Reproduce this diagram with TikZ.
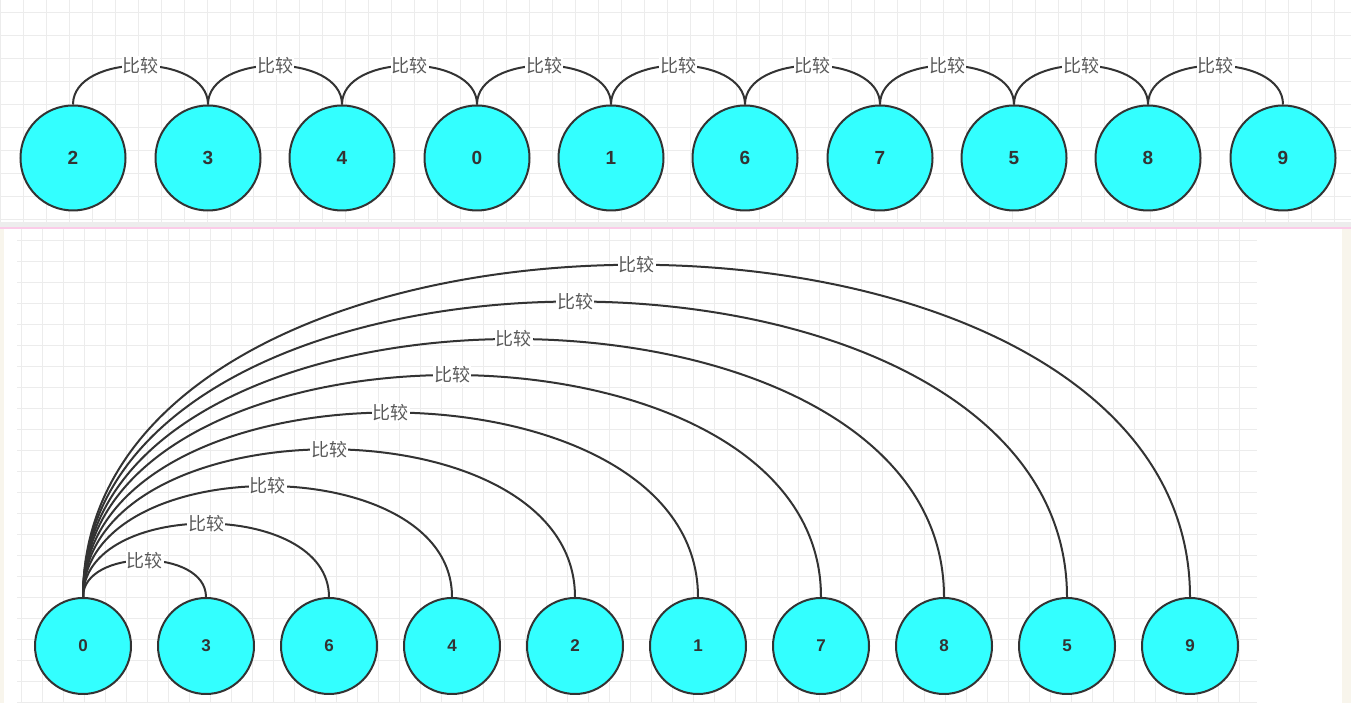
\documentclass[tikz,border=0pt]{standalone}
\usepackage{fontspec}
\setmainfont{Liberation Sans}
\newfontfamily\cjk{Noto Sans CJK SC}
\usepackage{tikz}
\definecolor{ball}{HTML}{33FFFF}
\definecolor{edge}{HTML}{333333}
\definecolor{paper}{HTML}{F8F5EC}
\definecolor{gridc}{HTML}{ECECEC}
\tikzstyle{num} = [draw=edge, line width=2pt, fill=ball, circle, inner sep=0pt, text=edge]
\tikzstyle{big} = [minimum size=105pt, font={\bfseries\fontsize{19}{19}\selectfont}]
\tikzstyle{small} = [minimum size=96pt, font={\bfseries\fontsize{17}{17}\selectfont}]
\tikzstyle{cmp} = [draw=edge, line width=2pt]
\tikzstyle{lbl} = [fill=white, inner sep=1pt, text=black!65, font={\cjk\fontsize{18}{18}\selectfont}]

\begin{document}
\begin{tikzpicture}[x=1pt, y=1pt]
    \useasboundingbox (0,0) rectangle (1351,703);
    % upper sheet
    \draw[gridc, line width=1pt, step=23pt] (0,481) grid (1351,703);
    \fill[black!7] (0,476) rectangle (1351,481);
    \draw[magenta!20, line width=1.5pt] (0,475)--(1351,475);
    % lower sheet
    \fill[paper] (0,0) rectangle (4,474);
    \fill[paper] (1342,0) rectangle (1351,474);
    \draw[gridc, line width=1pt, step=21pt] (17,0) grid (1257,474);

    \node[num,big](t2) at (73,545){2};
    \node[num,big](t3) at (208,545){3};
    \node[num,big](t4) at (342,545){4};
    \node[num,big](t0) at (477,545){0};
    \node[num,big](t1) at (611,545){1};
    \node[num,big](t6) at (745,545){6};
    \node[num,big](t7) at (880,545){7};
    \node[num,big](t5) at (1014,545){5};
    \node[num,big](t8) at (1148,545){8};
    \node[num,big](t9) at (1283,545){9};
    \draw[cmp](t2.north)..controls +(0,52) and +(0,52)..node[lbl]{比较}(t3.north);
    \draw[cmp](t3.north)..controls +(0,52) and +(0,52)..node[lbl]{比较}(t4.north);
    \draw[cmp](t4.north)..controls +(0,52) and +(0,52)..node[lbl]{比较}(t0.north);
    \draw[cmp](t0.north)..controls +(0,52) and +(0,52)..node[lbl]{比较}(t1.north);
    \draw[cmp](t1.north)..controls +(0,52) and +(0,52)..node[lbl]{比较}(t6.north);
    \draw[cmp](t6.north)..controls +(0,52) and +(0,52)..node[lbl]{比较}(t7.north);
    \draw[cmp](t7.north)..controls +(0,52) and +(0,52)..node[lbl]{比较}(t5.north);
    \draw[cmp](t5.north)..controls +(0,52) and +(0,52)..node[lbl]{比较}(t8.north);
    \draw[cmp](t8.north)..controls +(0,52) and +(0,52)..node[lbl]{比较}(t9.north);

    \node[num,small](b0) at (83,57){0};
    \node[num,small](b3) at (206,57){3};
    \node[num,small](b6) at (329,57){6};
    \node[num,small](b4) at (452,57){4};
    \node[num,small](b2) at (575,57){2};
    \node[num,small](b1) at (698,57){1};
    \node[num,small](b7) at (821,57){7};
    \node[num,small](b8) at (944,57){8};
    \node[num,small](b5) at (1067,57){5};
    \node[num,small](b9) at (1190,57){9};
    \draw[cmp](b0.north)..controls +(0,49) and +(0,49)..node[lbl]{比较}(b3.north);
    \draw[cmp](b0.north)..controls +(0,98) and +(0,98)..node[lbl]{比较}(b6.north);
    \draw[cmp](b0.north)..controls +(0,148) and +(0,148)..node[lbl]{比较}(b4.north);
    \draw[cmp](b0.north)..controls +(0,197) and +(0,197)..node[lbl]{比较}(b2.north);
    \draw[cmp](b0.north)..controls +(0,246) and +(0,246)..node[lbl]{比较}(b1.north);
    \draw[cmp](b0.north)..controls +(0,296) and +(0,296)..node[lbl]{比较}(b7.north);
    \draw[cmp](b0.north)..controls +(0,344) and +(0,344)..node[lbl]{比较}(b8.north);
    \draw[cmp](b0.north)..controls +(0,394) and +(0,394)..node[lbl]{比较}(b5.north);
    \draw[cmp](b0.north)..controls +(0,443) and +(0,443)..node[lbl]{比较}(b9.north);
  \end{tikzpicture}
\end{document}
